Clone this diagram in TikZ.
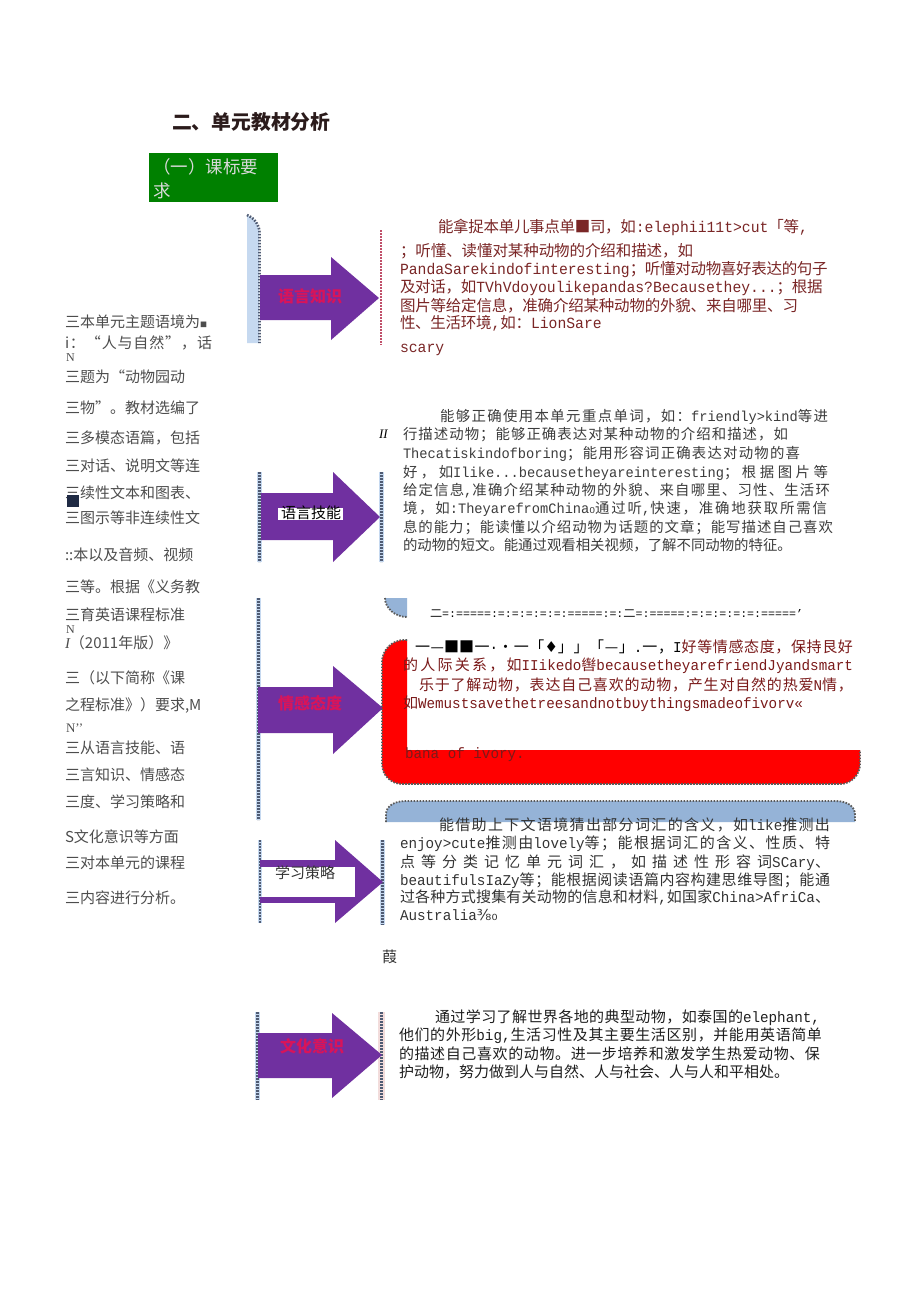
\documentclass[tikz,border=0pt]{standalone}
\usepackage{fontspec}
\setmainfont{Noto Sans CJK SC}
\newfontfamily\lat[FakeStretch=0.95]{Liberation Mono}
\newfontfamily\dvs{DejaVu Sans}
\newfontfamily\lser{Liberation Serif}
\usepackage{graphicx}
\definecolor{arrowpurple}{HTML}{7030A0}
\definecolor{barblue}{HTML}{C6D9F0}
\definecolor{bardot}{HTML}{4F5B73}
\definecolor{lblue}{HTML}{95B3D7}
\definecolor{titlecol}{HTML}{2B1B1B}
\definecolor{greenbox}{HTML}{008000}
\definecolor{greentxt}{HTML}{DADADA}
\definecolor{lefttxt}{HTML}{4D4D4D}
\definecolor{pacol}{HTML}{7A2626}
\definecolor{pbcol}{HTML}{3C3C3C}
\definecolor{pccol}{HTML}{7A1A1A}
\definecolor{pdcol}{HTML}{333333}
\definecolor{pecol}{HTML}{1E1E1E}
\definecolor{labred}{HTML}{D8145A}
\definecolor{dotred}{HTML}{C0506A}
\definecolor{pinkbar}{HTML}{F2DCDB}
\definecolor{boxred}{HTML}{FF0000}
\definecolor{dotgray}{HTML}{5A5A5A}
\definecolor{navysq}{HTML}{1F2A44}
\newcommand\fsz[1]{\fontsize{#1pt}{#1pt}\selectfont}
\newcommand\jline[2]{\hbox to #1pt{#2}}
\hfuzz=300pt \hbadness=10000
\makeatletter
\count@="2E80
\loop\XeTeXcharclass\count@=7 \advance\count@\@ne\ifnum\count@<"A000 \repeat
\count@="FF00
\loop\XeTeXcharclass\count@=7 \advance\count@\@ne\ifnum\count@<"FFF0 \repeat
\makeatother
\XeTeXinterchartoks 7 7 = {\hskip0pt plus1pt minus.3pt\relax}
\XeTeXinterchartoks 0 7 = {\hskip0pt plus1pt minus.3pt\relax}
\XeTeXinterchartoks 7 0 = {\hskip0pt plus1pt minus.3pt\relax}
\XeTeXinterchartokenstate=1
\tikzset{
  txtbase/.style={inner sep=0pt, outer sep=0pt, anchor=base west},
  lt/.style={txtbase, font=\fsz{15}, text=lefttxt, yshift=-5.7pt},
  pa/.style={txtbase, font=\fsz{15.5}, text=pacol, yshift=-5.9pt},
  pb/.style={txtbase, font=\fsz{14.4}, text=pbcol, yshift=-5.5pt},
  pc/.style={txtbase, font=\fsz{15}, text=pccol, yshift=-5.7pt},
  pd/.style={txtbase, font=\fsz{15}, text=pdcol, yshift=-5.7pt},
  pe/.style={txtbase, font=\fsz{15}, text=pecol, yshift=-5.7pt},
  alab/.style={inner sep=0pt, font=\fsz{16}\bfseries, text=labred},
  arrowfill/.style={fill=arrowpurple},
  sidebar/.style={fill=barblue},
  bardots/.style={draw=bardot, line width=2.6pt, dash pattern=on 1.6pt off 1.4pt},
  reddots/.style={draw=dotred, line width=2.2pt, dash pattern=on 1.6pt off 1.4pt},
  grayborder/.style={draw=dotgray, line width=1.8pt, dash pattern=on 1.6pt off 1.4pt},
}
\begin{document}
\begin{tikzpicture}[x=1pt,y=-1pt]
\useasboundingbox (0,0) rectangle (920,1301);
\fill[white] (0,0) rectangle (920,1301);

% ---------- title and green box ----------
\node[txtbase, font=\fsz{19.8}\bfseries, text=titlecol, yshift=-7.5pt] (title) at (172,122) {二、单元教材分析};
\fill[greenbox] (149,153) rectangle (278,202);
\node[txtbase, font=\fsz{17.5}, text=greentxt, yshift=-6.6pt] (kb1) at (153,167) {（一）课标要};
\node[txtbase, font=\fsz{17.5}, text=greentxt, yshift=-6.6pt] (kb2) at (153,191) {求};

% ---------- left column ----------
\node[lt] (l1) at (65,322) {三本单元主题语境为{\fsz{7}■}};
\node[lt] (l2) at (65,343) {\jline{147}{i：“人与自然”，话}};
\node[lt, font=\fsz{12}\lser] (l2n) at (66,356) {N};
\node[lt] (l3) at (65,377) {三题为“动物园动};
\node[lt] (l4) at (65,408) {三物”。教材选编了};
\node[lt] (l5) at (65,438) {三多模态语篇，包括};
\node[lt] (l6) at (65,466) {三对话、说明文等连};
\node[lt] (l7) at (65,493) {三续性文本和图表、};
\fill[navysq] (67,495) rectangle (79,507);
\node[lt] (l8) at (65,518) {三图示等非连续性文};
\node[lt] (l9) at (65,555) {::本以及音频、视频};
\node[lt] (l10) at (65,587) {三等。根据《义务教};
\node[lt] (l11) at (65,615) {三育英语课程标准};
\node[lt, font=\fsz{12}\lser] (l11n) at (66,628) {N};
\node[lt] (l12) at (65,643) {{\lser\itshape I}（2011年版）》};
\node[lt] (l13) at (65,678) {三（以下简称《课};
\node[lt] (l14) at (65,705) {之程标准》）要求,M};
\node[lt, font=\fsz{13}\lser] (l15) at (66,727) {N’’};
\node[lt] (l16) at (65,748) {三从语言技能、语};
\node[lt] (l17) at (65,775) {三言知识、情感态};
\node[lt] (l18) at (65,802) {三度、学习策略和};
\node[lt] (l19) at (65,837) {S文化意识等方面};
\node[lt] (l20) at (65,863) {三对本单元的课程};
\node[lt] (l21) at (65,898) {三内容进行分析。};

% ---------- arrow 1 ----------
\fill[sidebar] (247,343) -- (247,215) .. controls (253,217) and (259,224) .. (259,232) -- (259,343) -- cycle;
\draw[bardots] (247,215) .. controls (253,217) and (259,224) .. (259.5,232) -- (259.5,343);
\draw[reddots] (381,230) -- (381,345);
\fill[arrowfill] (260,275) -- (331,275) -- (331,257) -- (379,298) -- (331,340) -- (331,320) -- (260,320) -- cycle;
\node[alab] (a1) at (310,296) {语言知识};

% ---------- arrow 2 ----------
\fill[sidebar] (257,472) rectangle (262,562);
\draw[bardots] (259.5,472) -- (259.5,562);
\fill[sidebar] (379,472) rectangle (384,562);
\draw[bardots] (381.5,472) -- (381.5,562);
\fill[arrowfill] (261,493) -- (333,493) -- (333,472) -- (380,517) -- (333,562) -- (333,540) -- (261,540) -- cycle;
\fill[white] (278,508) rectangle (343,520);
\node[inner sep=0pt, font=\fsz{15}, text=black] (a2) at (311,513) {语言技能};

% ---------- arrow 3 and red frame ----------
\fill[sidebar] (256,598) rectangle (261,820);
\draw[bardots] (258.5,598) -- (258.5,820);
\fill[arrowfill] (258,687) -- (333,687) -- (333,666) -- (383,708) -- (333,754) -- (333,733) -- (258,733) -- cycle;
\node[alab] (a3) at (310,703) {情感态度};

\fill[lblue] (407,598) -- (385,598) .. controls (385,608) and (395,617) .. (407,617) -- cycle;
\draw[grayborder] (385,598) .. controls (385,608) and (395,617) .. (407,617);

\fill[boxred] (407,640) -- (407,750) -- (860,750) -- (860,764) .. controls (860,775) and (851,784) .. (840,784) -- (402,784) .. controls (391,784) and (382,775) .. (382,764) -- (382,662) .. controls (382,650) and (392,640) .. (404,640) -- cycle;
\draw[grayborder] (407,640) -- (404,640) .. controls (392,640) and (382,650) .. (382,662) -- (382,764) .. controls (382,775) and (391,784) .. (402,784) -- (840,784) .. controls (851,784) and (860,775) .. (860,764) -- (860,750);

\fill[lblue] (386,822) -- (386,815) .. controls (386,806) and (394,801) .. (406,801) -- (835,801) .. controls (847,801) and (855,806) .. (855,815) -- (855,822) -- cycle;
\draw[grayborder] (386,822) -- (386,815) .. controls (386,806) and (394,801) .. (406,801) -- (835,801) .. controls (847,801) and (855,806) .. (855,815) -- (855,822);

% ---------- arrow 4 ----------
\fill[sidebar] (258,840) rectangle (262,923);
\draw[bardots] (260,840) -- (260,923);
\fill[sidebar] (380,840) rectangle (385,925);
\draw[bardots] (382.5,840) -- (382.5,925);
\fill[arrowfill] (260,860) rectangle (336,867);
\fill[arrowfill] (260,897) rectangle (336,903);
\fill[arrowfill] (335,840) -- (383,882) -- (335,923) -- cycle;
\fill[white] (335,867) rectangle (355,897);
\node[inner sep=0pt, font=\fsz{15}, text=pdcol] (a4) at (305,873) {学习策略};

% ---------- arrow 5 ----------
\fill[sidebar] (255,1012) rectangle (260,1100);
\draw[bardots] (257.5,1012) -- (257.5,1100);
\fill[pinkbar] (378,1012) rectangle (385,1100);
\draw[bardots] (381.5,1012) -- (381.5,1100);
\fill[arrowfill] (258,1033) -- (332,1033) -- (332,1013) -- (382,1055) -- (332,1098) -- (332,1078) -- (258,1078) -- cycle;
\node[alab] (a5) at (312,1046) {文化意识};

% ---------- paragraph 1 ----------
\node[pa] (p1a) at (438,227) {\jline{360}{能拿捉本单儿事点单■司，如{\lat :elephii11t>cut}「等{\lat ,}}};
\node[pa] (p1b) at (400,251) {\jline{293}{；听懂、读懂对某种动物的介绍和描述，如}};
\node[pa] (p1c) at (400,269) {\jline{423}{{\lat PandaSarekindofinteresting}；听懂对动物喜好表达的句子}};
\node[pa] (p1d) at (400,287) {\jline{415}{及对话，如{\lat TVhVdoyoulikepandas?Becausethey...}；根据}};
\node[pa] (p1e) at (400,306) {\jline{398}{图片等给定信息，准确介绍某种动物的外貌、来自哪里、习}};
\node[pa] (p1f) at (400,323) {\jline{198}{性、生活环境{\lat ,}如：{\lat LionSare}}};
\node[pa] (p1g) at (400,347) {{\lat scary}};

% ---------- paragraph 2 ----------
\node[txtbase, font=\fsz{13}\lser\itshape, text=black, yshift=-4.6pt] (ii) at (379,434) {II};
\node[pb] (p2a) at (440,416) {\jline{388}{能够正确使用本单元重点单词，如：{\lat friendly>kind}等进}};
\node[pb] (p2b) at (403,434) {\jline{385}{行描述动物；能够正确表达对某种动物的介绍和描述，如}};
\node[pb] (p2c) at (403,453) {\jline{397}{{\lat Thecatiskindofboring}；能用形容词正确表达对动物的喜}};
\node[pb] (p2d) at (403,472) {\jline{425}{好，如{\lat Ilike...becausetheyareinteresting}；根据图片等}};
\node[pb] (p2e) at (403,490) {\jline{427}{给定信息{\lat ,}准确介绍某种动物的外貌、来自哪里、习性、生活环}};
\node[pb] (p2f) at (403,508) {\jline{424}{境，如{\lat :TheyarefromChina}{\dvs ₀}通过听{\lat ,}快速，准确地获取所需信}};
\node[pb] (p2g) at (403,527) {\jline{430}{息的能力；能读懂以介绍动物为话题的文章；能写描述自己喜欢}};
\node[pb] (p2h) at (403,545) {的动物的短文。能通过观看相关视频，了解不同动物的特征。};

% ---------- paragraph 3 (red frame) ----------
\node[txtbase, font=\fsz{11}] (dash) at (430,617) {\resizebox{373pt}{\height}{二{\lat =:=====:=:=:=:=:=:=====:=:}二{\lat =:=====:=:=:=:=:=:=====’}}};
\node[pc] (p3a) at (415,647) {\jline{438}{\color{black}一—■■一{\lat ·}•一「{\dvs ♦}」」「—」{\lat .}一，{\lat I}\color{pccol}好等情感态度，保持艮好}};
\node[pc] (p3b) at (403,665) {\jline{450}{的人际关系，如{\lat IIikedo}辔{\lat becausetheyarefriendJyandsmart}}};
\node[pc] (p3c) at (419,685) {\jline{434}{乐于了解动物，表达自己喜欢的动物，产生对自然的热爱{\lat N}情，}};
\node[pc] (p3d) at (403,703) {\jline{410}{如{\lat Wemustsavethetreesandnotb}{\dvs υ}{\lat ythingsmadeofivorv«}}};
\node[pc] (p3e) at (405,753) {{\lat bana of ivory.}};

% ---------- paragraph 4 ----------
\node[pd] (p4a) at (439,825) {\jline{391}{能借助上下文语境猜出部分词汇的含义，如{\lat like}推测出}};
\node[pd] (p4b) at (400,843) {\jline{430}{{\lat enjoy>cute}推测由{\lat lovely}等；能根据词汇的含义、性质、特}};
\node[pd] (p4c) at (400,862) {\jline{430}{点等分类记忆单元词汇，如描述性形容词{\lat SCary}、}};
\node[pd] (p4d) at (400,880) {\jline{430}{{\lat beautifulsIaZy}等；能根据阅读语篇内容构建思维导图；能通}};
\node[pd] (p4e) at (400,897) {\jline{430}{过各种方式搜集有关动物的信息和材料{\lat ,}如国家{\lat China>AfriCa}、}};
\node[pd] (p4f) at (400,915) {{\lat Australia}{\dvs ⅜₀}};
\node[pd] (jia) at (382,957) {葭};

% ---------- paragraph 5 ----------
\node[pe] (p5a) at (435,1017) {\jline{385}{通过学习了解世界各地的典型动物，如泰国的{\lat elephant,}}};
\node[pe] (p5b) at (399,1035) {\jline{423}{他们的外形{\lat big,}生活习性及其主要生活区别，并能用英语简单}};
\node[pe] (p5c) at (399,1054) {\jline{421}{的描述自己喜欢的动物。进一步培养和激发学生热爱动物、保}};
\node[pe] (p5d) at (399,1072) {护动物，努力做到人与自然、人与社会、人与人和平相处。};
\end{tikzpicture}
\end{document}
